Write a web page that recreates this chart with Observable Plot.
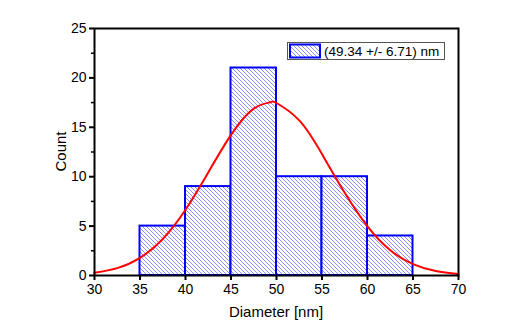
<!DOCTYPE html>
<html>
<head>
<meta charset="utf-8">
<script src="https://cdn.jsdelivr.net/npm/d3@7"></script>
<script src="https://cdn.jsdelivr.net/npm/@observablehq/plot@0.6"></script>
<style>
  html, body { margin: 0; padding: 0; background: #fff; }
  #chart { width: 529px; height: 331px; }
</style>
</head>
<body>
<div id="chart"></div>
<script>
// Histogram bins (left edge, right edge) and counts
const binStart = [35, 40, 45, 50, 55, 60];
const binEnd   = [40, 45, 50, 55, 60, 65];
const counts   = [5, 9, 21, 10, 10, 4];

// Fitted curve
const fitX = [30, 32.5, 35, 37.5, 40, 42.5, 45, 47.5, 49.34, 50, 52.5, 55, 57.5, 60, 62.5, 65, 67.5, 70];
const fitY = [0.28, 0.75, 1.79, 3.70, 6.66, 10.43, 14.23, 16.89, 17.54, 17.46, 15.70, 12.29, 8.37, 4.97, 2.56, 1.15, 0.45, 0.15];

const xTicks = [30, 35, 40, 45, 50, 55, 60, 65, 70];
const yTicks = [0, 5, 10, 15, 20, 25];
const yMinor = [2.5, 7.5, 12.5, 17.5, 22.5];
const legendLabel = "(49.34 +/- 6.71) nm";
const xLabel = "Diameter [nm]";
const yLabel = "Count";

const bins = binStart.map((s, i) => ({x1: s, x2: binEnd[i], y: counts[i]}));
const fit = fitX.map((x, i) => ({x, y: fitY[i]}));

const W = 529, H = 331;
const chart = Plot.plot({
  width: W, height: H,
  marginLeft: 94, marginRight: 71, marginTop: 28, marginBottom: 56,
  x: {domain: [30, 70]},
  y: {domain: [0, 25]},
  style: {fontFamily: "'Liberation Sans', Arial, sans-serif", fontSize: "14px", color: "black", background: "white"},
  marks: [
    Plot.rectY(bins, {x1: "x1", x2: "x2", y: "y", fill: "url(#hatch)", stroke: "#0000ff", strokeWidth: 2}),
    Plot.line(fit, {x: "x", y: "y", stroke: "#ff0000", strokeWidth: 2, curve: "natural"}),
    Plot.frame({stroke: "black", strokeWidth: 2}),
    Plot.axisX({ticks: xTicks, tickSize: 5, tickPadding: 4, label: null, strokeWidth: 2}),
    Plot.axisY({ticks: yTicks, tickSize: 5, tickPadding: 3, label: null, strokeWidth: 2}),
    Plot.axisY({ticks: yMinor, tickSize: 3, tickFormat: () => "", label: null, strokeWidth: 1.5})
  ]
});

const svg = d3.select(chart);
const defs = svg.insert("defs", ":first-child");
const pat = defs.append("pattern")
  .attr("id", "hatch").attr("patternUnits", "userSpaceOnUse")
  .attr("width", 4).attr("height", 4);
pat.append("rect").attr("width", 4).attr("height", 4).attr("fill", "white");
pat.append("path").attr("d", "M-1,-1 L5,5 M-1,3 L1,5 M3,-1 L5,1")
  .attr("stroke", "#5a5aff").attr("stroke-width", 0.7);

// axis labels
svg.append("text").attr("x", 94 + (458 - 94) / 2).attr("y", 317)
  .attr("text-anchor", "middle").attr("font-size", 15).attr("fill", "black").text(xLabel);
svg.append("text").attr("transform", `translate(66,${28 + (275 - 28) / 2}) rotate(-90)`)
  .attr("text-anchor", "middle").attr("font-size", 15).attr("fill", "black").text(yLabel);

// legend
const lg = svg.append("g");
lg.append("rect").attr("x", 287.5).attr("y", 42.5).attr("width", 157).attr("height", 17)
  .attr("fill", "white").attr("stroke", "#555").attr("stroke-width", 1);
lg.append("rect").attr("x", 290).attr("y", 44.5).attr("width", 30).attr("height", 13)
  .attr("fill", "url(#hatch)").attr("stroke", "#0000ff").attr("stroke-width", 2);
lg.append("text").attr("x", 324).attr("y", 56).attr("text-anchor", "start")
  .attr("font-size", 13.5).attr("fill", "black").text(legendLabel);

document.getElementById("chart").appendChild(chart);
</script>
</body>
</html>
